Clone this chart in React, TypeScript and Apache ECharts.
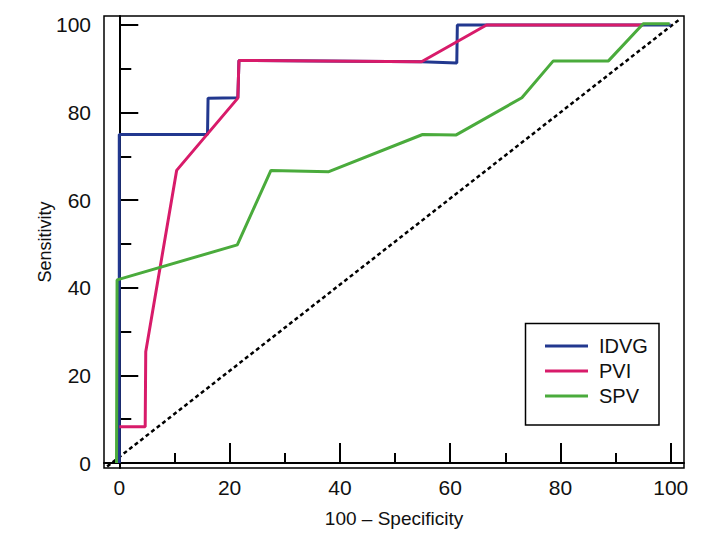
import React, { useEffect, useRef } from "react";
import * as echarts from "echarts";

const seriesNames = ["IDVG", "PVI", "SPV"];
const idvgX = [0, 0, 16, 16.1, 21.5, 21.7, 54.8, 61.2, 61.3, 100];
const idvgY = [0, 75, 75, 83.3, 83.4, 91.9, 91.6, 91.3, 100, 100];
const pviX = [0, 4.7, 4.8, 10.4, 21.5, 21.7, 54.8, 66.6, 95];
const pviY = [8.3, 8.3, 25.4, 66.8, 83.3, 91.9, 91.6, 100, 100];
const spvX = [-0.5, -0.4, 21.4, 27.5, 38, 55, 61.1, 73, 78.7, 88.7, 95, 99.8];
const spvY = [0, 41.8, 49.8, 66.8, 66.5, 75, 74.9, 83.4, 91.8, 91.8, 100.3, 100.3];
const diagX = [-2.2, 101.7];
const diagY = [-0.8, 101.4];
const majorTicks = [0, 20, 40, 60, 80, 100];
const minorTicks = [10, 30, 50, 70, 90];
const colors = ["#22388f", "#d81b6a", "#4aab3c"];
const xTitle = "100 – Specificity";
const yTitle = "Sensitivity";

const FONT = "'Liberation Sans', Arial, sans-serif";

const zip = (xs: number[], ys: number[]) => xs.map((x, i) => [x, ys[i]]);

export default function App() {
  const ref = useRef<HTMLDivElement>(null);
  useEffect(() => {
    if (!ref.current) return;
    const chart = echarts.init(ref.current, null, { renderer: "svg" });
    const xMin = -2.77, xMax = 102.4, yMin = -1.14, yMax = 102.05;
    const axisCommon = {
      type: "value",
      splitLine: { show: false },
    };
    chart.setOption({
      animation: false,
      backgroundColor: "#ffffff",
      textStyle: { fontFamily: FONT },
      grid: {
        left: 104,
        right: 36,
        top: 16,
        bottom: 84,
        show: true,
        borderColor: "#000",
        borderWidth: 1.5,
        backgroundColor: "transparent",
      },
      xAxis: [
        {
          ...axisCommon,
          min: xMin,
          max: xMax,
          position: "bottom",
          name: xTitle,
          nameLocation: "middle",
          nameGap: 41,
          nameMoveOverlap: false,
          nameTextStyle: { fontSize: 19, color: "#111", fontFamily: FONT },
          axisLine: { show: true, lineStyle: { color: "#000", width: 2 } },
          axisTick: {
            show: true,
            inside: true,
            length: 20,
            customValues: majorTicks,
            lineStyle: { color: "#000", width: 2 },
          },
          axisLabel: {
            show: true,
            customValues: majorTicks,
            margin: 9,
            fontSize: 21,
            color: "#111",
            fontFamily: FONT,
          },
        },
        {
          ...axisCommon,
          min: xMin,
          max: xMax,
          position: "bottom",
          axisLine: { show: false },
          axisTick: {
            show: true,
            inside: true,
            length: 10,
            customValues: minorTicks,
            lineStyle: { color: "#000", width: 2 },
          },
          axisLabel: { show: false },
        },
      ],
      yAxis: [
        {
          ...axisCommon,
          min: yMin,
          max: yMax,
          position: "left",
          name: yTitle,
          nameLocation: "middle",
          nameGap: 50,
          nameMoveOverlap: false,
          nameTextStyle: { fontSize: 18, color: "#111", fontFamily: FONT },
          axisLine: { show: true, lineStyle: { color: "#000", width: 2 } },
          axisTick: {
            show: true,
            inside: true,
            length: 19,
            customValues: majorTicks,
            lineStyle: { color: "#000", width: 2 },
          },
          axisLabel: {
            show: true,
            customValues: majorTicks,
            margin: 13,
            fontSize: 21,
            color: "#111",
            fontFamily: FONT,
          },
        },
        {
          ...axisCommon,
          min: yMin,
          max: yMax,
          position: "left",
          axisLine: { show: false },
          axisTick: {
            show: true,
            inside: true,
            length: 12,
            customValues: minorTicks,
            lineStyle: { color: "#000", width: 2 },
          },
          axisLabel: { show: false },
        },
      ],
      legend: {
        data: seriesNames,
        orient: "vertical",
        left: 545,
        top: 336,
        padding: 0,
        itemGap: 5,
        icon: "rect",
        itemWidth: 43,
        itemHeight: 3,
        textStyle: {
          fontSize: 20,
          lineHeight: 20,
          color: "#111",
          fontFamily: FONT,
          padding: [0, 0, 0, 6],
        },
      },
      graphic: [
        {
          type: "rect",
          shape: { x: 525.5, y: 323.5, width: 133.5, height: 101.5 },
          style: { fill: "none", stroke: "#000", lineWidth: 1.5 },
          silent: true,
        },
      ],
      series: [
        {
          name: "Reference",
          type: "line",
          data: zip(diagX, diagY),
          symbol: "none",
          lineStyle: { color: "#000", width: 2.5, type: [4, 3] },
          silent: true,
          z: 1,
        },
        {
          name: seriesNames[0],
          type: "line",
          data: zip(idvgX, idvgY),
          symbol: "none",
          color: colors[0],
          lineStyle: { color: colors[0], width: 3 },
          z: 2,
        },
        {
          name: seriesNames[1],
          type: "line",
          data: zip(pviX, pviY),
          symbol: "none",
          color: colors[1],
          lineStyle: { color: colors[1], width: 3 },
          z: 3,
        },
        {
          name: seriesNames[2],
          type: "line",
          data: zip(spvX, spvY),
          symbol: "none",
          color: colors[2],
          lineStyle: { color: colors[2], width: 3 },
          z: 4,
        },
      ],
    });
    return () => chart.dispose();
  }, []);
  return (
    <div
      ref={ref}
      style={{ position: "fixed", left: 0, top: 0, width: 720, height: 552, background: "#fff" }}
    />
  );
}
